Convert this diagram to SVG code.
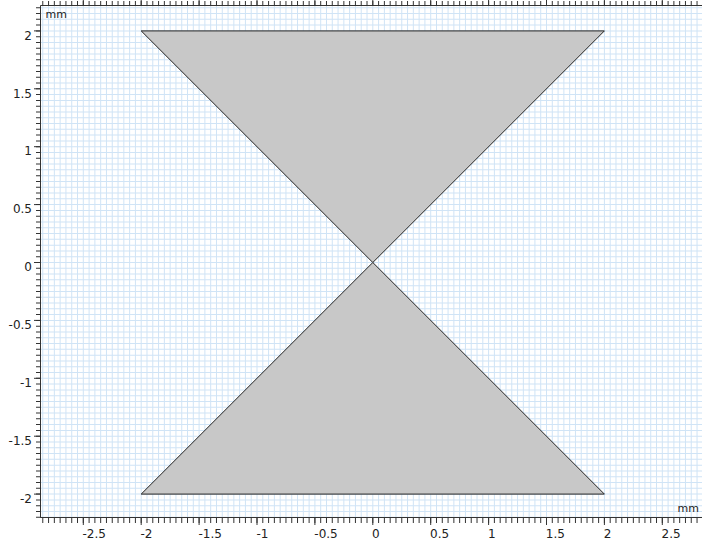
<svg xmlns="http://www.w3.org/2000/svg" width="702" height="541" viewBox="0 0 702 541">
<style>
.lbl{font-family:"DejaVu Sans","Liberation Sans",sans-serif;font-size:12px;fill:#222}
.unit{font-family:"DejaVu Sans","Liberation Sans",sans-serif;font-size:11px;fill:#222}
.tk{stroke:#333;stroke-width:1;fill:none}
.geom{fill:#c8c8c8;stroke:#222;stroke-width:1;stroke-linejoin:miter}
</style>
<rect x="0" y="0" width="702" height="541" fill="#ffffff"/>
<g id="grid">
<line x1="42.27" y1="261.85" x2="702" y2="261.85" stroke="#d0e4f6" stroke-width="511.7" stroke-dasharray="1 4.79"/>
<line x1="371.5" y1="517.76" x2="371.5" y2="6" stroke="#d0e4f6" stroke-width="661" stroke-dasharray="1 4.79"/>
</g>
<g id="geometry">
<polygon id="upper" class="geom" points="141.2,30.9 604.4,30.9 372.8,262.5"/>
<polygon id="lower" class="geom" points="141.2,494.1 604.4,494.1 372.8,262.5"/>
</g>
<g id="axes">
<path class="tk" d="M40.5,5.5 H702 M40.5,5.5 V517.5 H702"/>
<line x1="42.27" y1="520.5" x2="702" y2="520.5" stroke="#333" stroke-width="5" stroke-dasharray="1 4.79"/>
<line x1="42.27" y1="3.5" x2="702" y2="3.5" stroke="#333" stroke-width="5" stroke-dasharray="1 4.79"/>
<line x1="38.5" y1="517.76" x2="38.5" y2="6" stroke="#333" stroke-width="5" stroke-dasharray="1 4.79"/>
<path class="tk" d="M83.3,518 V525 M141.2,518 V525 M199.1,518 V525 M257,518 V525 M314.9,518 V525 M372.8,518 V525 M430.7,518 V525 M488.6,518 V525 M546.5,518 V525 M604.4,518 V525 M662.3,518 V525"/>
<path class="tk" d="M83.3,0 V6 M141.2,0 V6 M199.1,0 V6 M257,0 V6 M314.9,0 V6 M372.8,0 V6 M430.7,0 V6 M488.6,0 V6 M546.5,0 V6 M604.4,0 V6 M662.3,0 V6"/>
<path class="tk" d="M34,30.9 H41 M34,88.8 H41 M34,146.7 H41 M34,204.6 H41 M34,262.5 H41 M34,320.4 H41 M34,378.3 H41 M34,436.2 H41 M34,494.1 H41"/>
</g>
<g id="xlabels">
<text class="lbl" x="82.5" y="538">-2.5</text>
<text class="lbl" x="140.5" y="538">-2</text>
<text class="lbl" x="198.5" y="538">-1.5</text>
<text class="lbl" x="256.5" y="538">-1</text>
<text class="lbl" x="314.3" y="538">-0.5</text>
<text class="lbl" x="372" y="538">0</text>
<text class="lbl" x="430" y="538">0.5</text>
<text class="lbl" x="488" y="538">1</text>
<text class="lbl" x="545.8" y="538">1.5</text>
<text class="lbl" x="603.7" y="538">2</text>
<text class="lbl" x="661.6" y="538">2.5</text>
<text class="unit" x="699" y="512" text-anchor="end">mm</text>
</g>
<g id="ylabels">
<text class="lbl" x="32" y="39.6" text-anchor="end">2</text>
<text class="lbl" x="32" y="97.5" text-anchor="end">1.5</text>
<text class="lbl" x="32" y="155.4" text-anchor="end">1</text>
<text class="lbl" x="32" y="213.3" text-anchor="end">0.5</text>
<text class="lbl" x="32" y="271.2" text-anchor="end">0</text>
<text class="lbl" x="32" y="329.1" text-anchor="end">-0.5</text>
<text class="lbl" x="32" y="387" text-anchor="end">-1</text>
<text class="lbl" x="32" y="444.9" text-anchor="end">-1.5</text>
<text class="lbl" x="32" y="502.8" text-anchor="end">-2</text>
<text class="unit" x="45.5" y="18.3">mm</text>
</g>
</svg>
